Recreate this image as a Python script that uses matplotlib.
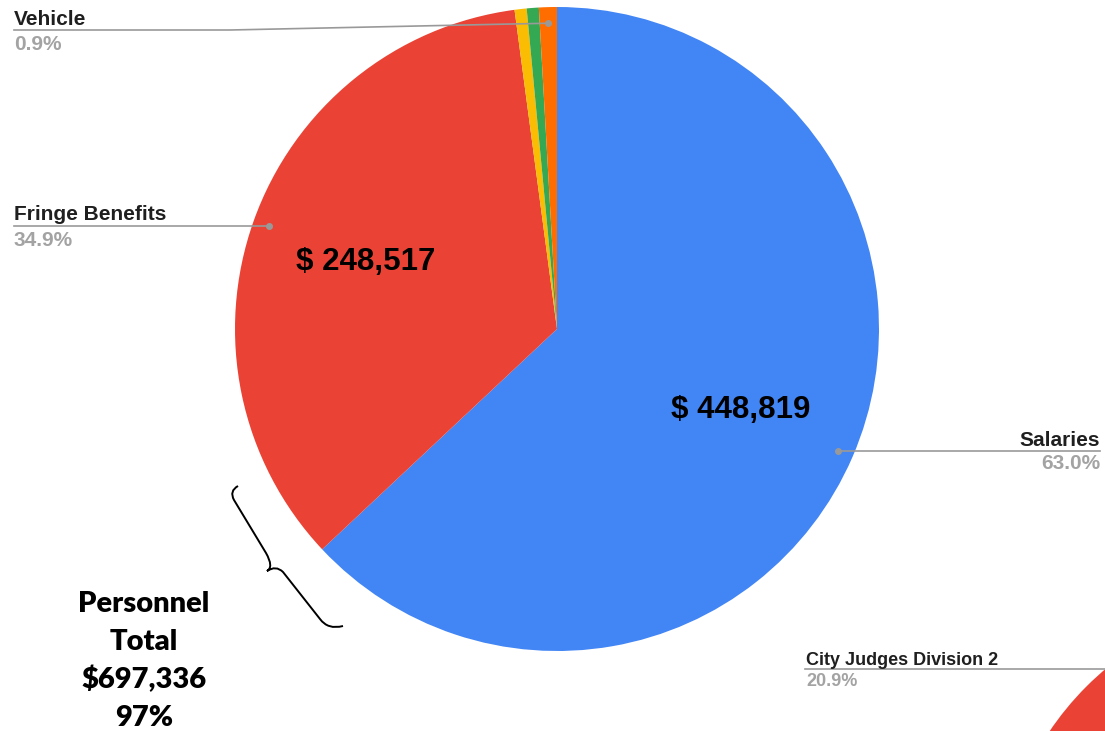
import numpy as np
import matplotlib.pyplot as plt
from matplotlib.patches import Circle, PathPatch
from matplotlib.path import Path

# data
labels = ['Salaries', 'Fringe Benefits', 'Other 1', 'Other 2', 'Vehicle']
values = [448819, 248517, 4300, 4300, 6400]
colors = ['#4285f4', '#ea4335', '#fbbc04', '#34a853', '#ff6d01']
inside = {'Salaries': '$ 448,819', 'Fringe Benefits': '$ 248,517'}
personnel_lines = ['Personnel', 'Total', '$697,336', '97%']
other_label = 'City Judges Division 2'
other_pct = 20.9

W, H = 1105, 731
fig = plt.figure(figsize=(W / 100, H / 100), dpi=100)
ax = fig.add_axes([0, 0, 1, 1])

cx, cy, R = 557, 329, 322
wedges, _ = ax.pie(values, colors=colors, startangle=-90, counterclock=True,
                   center=(cx, cy), radius=R,
                   wedgeprops=dict(linewidth=0))

# piece of the neighbouring chart, bottom right
ax.add_patch(Circle((1300, 900), 302, color='#ea4335', lw=0))

ax.set_xlim(0, W)
ax.set_ylim(H, 0)
ax.set_aspect('equal')
ax.axis('off')

total = sum(values)
font = 'Liberation Sans'
line_c = '#999999'
gray = '#a3a3a3'
dark = '#1f1f1f'
fs = 15


def dot_of(w):
    mid = np.deg2rad((w.theta1 + w.theta2) / 2)
    return cx + 0.95 * R * np.cos(mid), cy + 0.95 * R * np.sin(mid)


for w, lab, v in zip(wedges, labels, values):
    pct = '%.1f%%' % (100 * v / total)
    if lab == 'Salaries':
        dx, dy = dot_of(w)
        ax.plot([dx, 1100], [dy, dy], color=line_c, lw=1.2)
        ax.plot(dx, dy, 'o', color=line_c, ms=4)
        ax.text(1100, dy - 5, lab, ha='right', va='baseline', fontsize=fs,
                fontweight='bold', family=font, color=dark)
        ax.text(1100, dy + 18, pct, ha='right', va='baseline', fontsize=fs,
                fontweight='bold', family=font, color=gray)
    elif lab == 'Fringe Benefits':
        dx, dy = dot_of(w)
        ax.plot([14, dx], [dy, dy], color=line_c, lw=1.2)
        ax.plot(dx, dy, 'o', color=line_c, ms=4)
        ax.text(14, dy - 6, lab, ha='left', va='baseline', fontsize=fs,
                fontweight='bold', family=font, color=dark)
        ax.text(14, dy + 20, pct, ha='left', va='baseline', fontsize=fs,
                fontweight='bold', family=font, color=gray)
    elif lab == 'Vehicle':
        dx, dy = dot_of(w)
        ax.plot([dx, 230, 14], [dy, 30, 30], color=line_c, lw=1.2)
        ax.plot(dx, dy, 'o', color=line_c, ms=4)
        ax.text(14, 25, lab, ha='left', va='baseline', fontsize=fs,
                fontweight='bold', family=font, color=dark)
        ax.text(14, 50, pct, ha='left', va='baseline', fontsize=fs,
                fontweight='bold', family=font, color=gray)

# values inside the slices
ax.text(741, 418, inside['Salaries'], ha='center', va='baseline', fontsize=22.5,
        fontweight='bold', family=font, color='black')
ax.text(366, 270, inside['Fringe Benefits'], ha='center', va='baseline', fontsize=22.5,
        fontweight='bold', family=font, color='black')

# neighbouring chart label
ax.plot([805, 1110], [669, 669], color=line_c, lw=1.2)
ax.text(806, 665, other_label, ha='left', va='baseline', fontsize=13,
        fontweight='bold', family=font, color=dark)
ax.text(806, 686, '%.1f%%' % other_pct, ha='left', va='baseline', fontsize=13,
        fontweight='bold', family=font, color=gray)

# brace
verts = [(238, 486), (229, 491), (234, 500), (266, 553), (274, 567), (267, 571),
         (276, 565), (283, 572), (320, 619), (328, 630), (343, 626)]
codes = [Path.MOVETO, Path.CURVE3, Path.CURVE3, Path.LINETO, Path.CURVE3, Path.CURVE3,
         Path.CURVE3, Path.CURVE3, Path.LINETO, Path.CURVE3, Path.CURVE3]
ax.add_patch(PathPatch(Path(verts, codes), fill=False, lw=1.4, color='black'))

# personnel total
for i, s in enumerate(personnel_lines):
    ax.text(144, 612 + i * 38, s, ha='center', va='baseline', fontsize=21,
            fontweight='heavy', family='Lato', color='black')

fig.savefig('out.png', dpi=100)
